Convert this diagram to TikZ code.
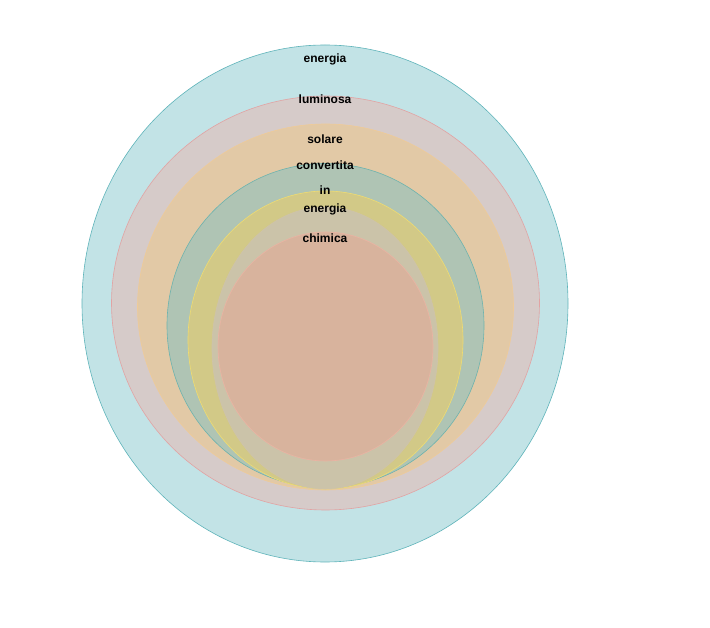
\documentclass[tikz,border=0pt]{standalone}
\usepackage{fontspec}
\setmainfont{Liberation Sans}
\definecolor{cA}{HTML}{C2E3E6}\definecolor{bA}{HTML}{5FB4BA}
\definecolor{cB}{HTML}{D6CBC9}\definecolor{bB}{HTML}{E2A3A3}
\definecolor{cC}{HTML}{E2C9A6}\definecolor{bC}{HTML}{EFCB98}
\definecolor{cD}{HTML}{AFC4B4}\definecolor{bD}{HTML}{6DB3AE}
\definecolor{cE}{HTML}{D2C987}\definecolor{bE}{HTML}{F0DC70}
\definecolor{cF}{HTML}{CBC3A9}\definecolor{bF}{HTML}{CFC3A9}
\definecolor{cG}{HTML}{D8B39D}\definecolor{bG}{HTML}{EBB3A3}
\tikzset{ring/.style={line width=0.6pt},
  lbl/.style={font=\fontsize{12}{14}\selectfont\bfseries, inner sep=0pt, text=black}}
\begin{document}
\begin{tikzpicture}[x=1pt,y=-1pt]
\useasboundingbox (0,0) rectangle (710,628);
\fill[white] (0,0) rectangle (710,628);
\draw[ring, fill=cA, draw=bA] (325,303.5) ellipse [x radius=243, y radius=258.5];
\draw[ring, fill=cB, draw=bB] (325.5,303) ellipse [x radius=214, y radius=207];
\draw[ring, fill=cC, draw=bC] (325.5,307) ellipse [x radius=188, y radius=183];
\draw[ring, fill=cD, draw=bD] (325.5,325.5) ellipse [x radius=158.5, y radius=162];
\draw[ring, fill=cE, draw=bE] (325.5,340) ellipse [x radius=137.5, y radius=149];
\draw[ring, fill=cF, draw=bF] (325,348) ellipse [x radius=113, y radius=141];
\draw[ring, fill=cG, draw=bG] (325.5,346.5) ellipse [x radius=107.5, y radius=114.5];
\node[lbl] (t1) at (325,59) {energia};
\node[lbl] (t2) at (325,99) {luminosa};
\node[lbl] (t3) at (325,139) {solare};
\node[lbl] (t4) at (325,165) {convertita};
\node[lbl] (t5) at (325,190) {in};
\node[lbl] (t6) at (325,209) {energia};
\node[lbl] (t7) at (325,238) {chimica};
\end{tikzpicture}
\end{document}
